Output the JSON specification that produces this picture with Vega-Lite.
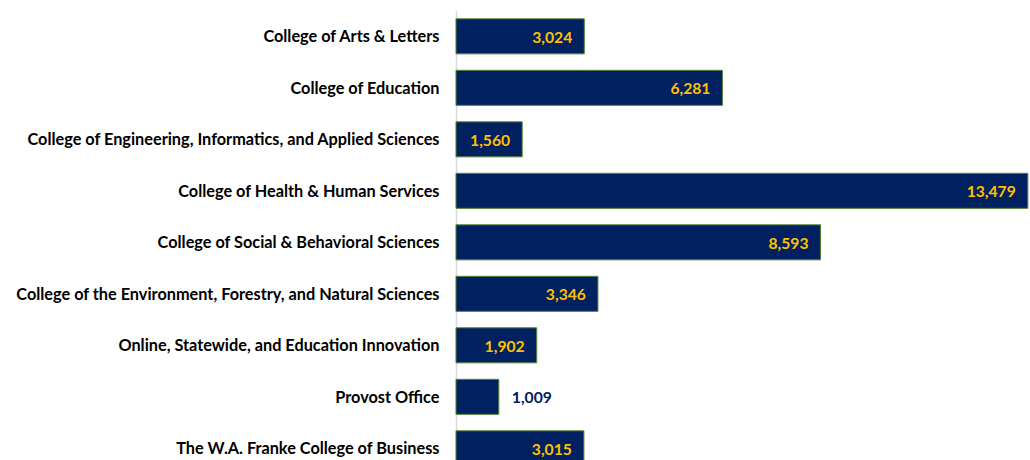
{
  "$schema": "https://vega.github.io/schema/vega-lite/v6.json",
  "width": 574,
  "height": 450,
  "autosize": {"type": "none"},
  "padding": {"left": 456, "top": 10.6, "right": 0, "bottom": 0},
  "background": "white",
  "config": {"view": {"stroke": null}},
  "data": {"values": [
    {"unit": "College of Arts & Letters", "value": 3024},
    {"unit": "College of Education\u2002", "value": 6281},
    {"unit": "College of Engineering, Informatics, and Applied Sciences", "value": 1560},
    {"unit": "College of Health & Human Services", "value": 13479},
    {"unit": "College of Social & Behavioral Sciences", "value": 8593},
    {"unit": "College of the Environment, Forestry, and Natural Sciences", "value": 3346},
    {"unit": "Online, Statewide, and Education Innovation", "value": 1902},
    {"unit": "Provost Office", "value": 1009},
    {"unit": "The W.A. Franke College of Business", "value": 3015}
  ]},
  "encoding": {
    "y": {"field": "unit", "type": "nominal", "sort": null,
      "scale": {"range": [0, 463.5], "paddingInner": 0.32, "paddingOuter": 0.16},
      "axis": {"title": null, "ticks": false, "labelPadding": 17, "labelOffset": 1, "labelFont": "Lato", "labelFontWeight": "bold", "labelFontSize": 16.3, "labelColor": "#000000", "labelLimit": 0, "domainColor": "#d9d9d9", "domainWidth": 1.5}},
    "x": {"field": "value", "type": "quantitative",
      "scale": {"domain": [0, 13530], "nice": false},
      "axis": null}
  },
  "layer": [
    {"mark": {"type": "bar", "fill": "#002060", "stroke": "#548235", "strokeWidth": 1}},
    {"transform": [{"filter": "datum.value > 1200"}],
     "mark": {"type": "text", "align": "right", "baseline": "middle", "dx": -12, "dy": 1.5, "font": "Lato", "fontWeight": "bold", "fontSize": 15.7, "color": "#FFC000"},
     "encoding": {"text": {"field": "value", "type": "quantitative", "format": ","}}},
    {"transform": [{"filter": "datum.value <= 1200"}],
     "mark": {"type": "text", "align": "left", "baseline": "middle", "dx": 13, "dy": 1.5, "font": "Lato", "fontWeight": "bold", "fontSize": 15.7, "color": "#002060"},
     "encoding": {"text": {"field": "value", "type": "quantitative", "format": ","}}}
  ]
}
